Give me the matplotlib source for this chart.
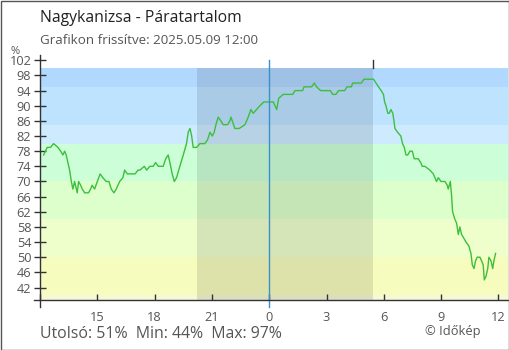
import matplotlib.pyplot as plt
from matplotlib.patches import Rectangle

# Humidity readings, hours relative to 2025.05.09 00:00
hours = [-11.81, -11.62, -11.45, -11.29, -11.06, -10.92, -10.80, -10.71, -10.63, -10.54,
         -10.45, -10.36, -10.28, -10.19, -10.10, -10.05, -9.98, -9.87, -9.79, -9.66,
         -9.46, -9.35, -9.27, -9.14, -9.00, -8.85, -8.71, -8.53, -8.39, -8.27,
         -8.13, -8.01, -7.83, -7.66, -7.57, -7.43, -7.23, -7.02, -6.87, -6.77,
         -6.54, -6.42, -6.25, -6.07, -5.95, -5.81, -5.55, -5.42, -5.29, -5.20,
         -5.08, -4.97, -4.85, -4.68, -4.50, -4.33, -4.24, -4.15, -4.06, -3.98,
         -3.80, -3.63, -3.37, -3.23, -3.10, -2.98, -2.88, -2.79, -2.67, -2.53,
         -2.41, -2.18, -2.06, -2.00, -1.80, -1.57, -1.27, -1.10, -0.96, -0.84,
         -0.49, -0.28, 0.21, 0.39, 0.50, 0.73, 1.23, 1.35, 1.75, 1.82,
         2.22, 2.36, 2.48, 2.69, 2.79, 3.20, 3.32, 3.49, 3.63, 3.95,
         4.07, 4.30, 4.37, 4.82, 4.96, 5.46, 5.59, 5.72, 5.86, 5.98,
         6.04, 6.11, 6.21, 6.28, 6.37, 6.47, 6.53, 6.58, 6.72, 6.89,
         6.98, 7.07, 7.16, 7.25, 7.37, 7.49, 7.59, 7.80, 7.93, 8.01,
         8.15, 8.41, 8.59, 8.76, 8.85, 8.99, 9.20, 9.32, 9.37, 9.48,
         9.55, 9.60, 9.72, 9.81, 9.90, 9.98, 10.07, 10.19, 10.30, 10.45,
         10.56, 10.63, 10.72, 10.80, 10.89, 11.03, 11.12, 11.20, 11.26, 11.35,
         11.44, 11.50, 11.61, 11.70, 11.76, 11.85]
humidity = [77, 79, 79, 80, 79, 78, 77, 78, 77, 75,
            73, 70, 68, 70, 68, 67, 70, 69, 68, 67,
            67, 68, 69, 68, 70, 72, 71, 70, 70, 68,
            67, 68, 70, 71, 73, 72, 72, 72, 73, 73,
            74, 73, 74, 74, 75, 74, 74, 76, 77, 75,
            72, 70, 71, 74, 77, 80, 83, 84, 82, 79,
            79, 80, 80, 81, 83, 82, 83, 85, 87, 86,
            85, 85, 86, 87, 84, 84, 85, 87, 89, 88,
            90, 91, 91, 89, 92, 93, 93, 94, 94, 95,
            95, 96, 95, 94, 94, 94, 93, 93, 94, 94,
            95, 95, 96, 96, 97, 97, 96, 95, 94, 93,
            91, 90, 88, 88, 89, 88, 86, 84, 83, 82,
            80, 79, 77, 77, 78, 78, 76, 76, 75, 74,
            74, 73, 72, 70, 71, 70, 70, 69, 68, 70,
            66, 62, 60, 59, 56, 58, 56, 55, 54, 53,
            51, 48, 47, 49, 50, 50, 49, 48, 44, 45,
            47, 50, 49, 47, 49, 51]

# background bands (lower, upper, colour)
band_edges = [(38.7, 40), (40, 50), (50, 60), (60, 70), (70, 80), (80, 85), (85, 95), (95, 100)]
band_colors = ['#f6f8d6', '#f6fcbd', '#eeffcc', '#ddffcc', '#ccffd8', '#cdeaff', '#bde3ff', '#b1d8ff']

night_start, night_end = -3.79, 5.43
xticks = [-12, -9, -6, -3, 0, 3, 6, 9, 12]
xlabels = ['', '15', '18', '21', '0', '3', '6', '9', '12']
yticks = list(range(42, 103, 4))

plt.rcParams['font.family'] = ['Open Sans', 'DejaVu Sans']

fig = plt.figure(figsize=(5.1, 3.5), dpi=100)
ax = fig.add_axes([40 / 510, 50 / 350, 468 / 510, 245 / 350])
ymin, ymax = 38.7, 103.4
ax.set_xlim(-12, 12.5)
ax.set_ylim(ymin, ymax)

for (lo, hi), c in zip(band_edges, band_colors):
    ax.axhspan(lo, hi, color=c, lw=0, zorder=0)
ax.add_patch(Rectangle((night_start, ymin), night_end - night_start, 100 - ymin,
                       color='black', alpha=0.1, lw=0, zorder=1))

ax.plot(hours, humidity, color='#3cbf3c', lw=1.0, zorder=3)

# current time marker and sunrise tick
ax.plot([0, 0], [ymin - 1.85, 102.1], color='#3a8fd0', lw=1, clip_on=False, zorder=4)
ax.plot([night_end, night_end], [100, 102.1], color='#333333', lw=1, clip_on=False, zorder=4)

for s in ax.spines.values():
    s.set_visible(False)
ax.plot([-12, -12], [ymin - 1.85, ymax], color='#333333', lw=1, clip_on=False, zorder=5)
ax.plot([-12.31, 12.5], [ymin, ymin], color='#333333', lw=1, clip_on=False, zorder=5)

ax.set_xticks(xticks)
ax.set_xticklabels(xlabels)
ax.set_yticks(yticks)
ax.tick_params(axis='y', direction='inout', length=8.6, width=1, color='#333333',
               labelsize=9.2, labelcolor='#555555', pad=2)
ax.tick_params(axis='x', direction='in', length=4.3, width=1, color='#333333',
               labelsize=9.2, labelcolor='#555555', pad=8)

fig.text(15 / 510, 1 - 51 / 350, '%', fontsize=8, color='#555555', ha='center', va='center')
fig.text(40 / 510, 1 - 18 / 350, 'Nagykanizsa - Páratartalom', fontsize=11.3, color='#222222',
         va='center')
fig.text(40 / 510, 1 - 41 / 350, 'Grafikon frissítve: 2025.05.09 12:00', fontsize=9.6,
         color='#555555', va='center')
fig.text(40 / 510, 1 - 334 / 350, 'Utolsó: 51%  Min: 44%  Max: 97%', fontsize=11.4,
         color='#555555', va='center')
fig.text(425 / 510, 1 - 331 / 350, '© Időkép', fontsize=9.3, color='#555555', va='center')

# outer frame
fig.patches.append(Rectangle((0.5 / 510, 0.5 / 350), 509 / 510, 349 / 350, transform=fig.transFigure,
                             fill=False, edgecolor='#555555', lw=1))

fig.savefig('out.png', dpi=100)
